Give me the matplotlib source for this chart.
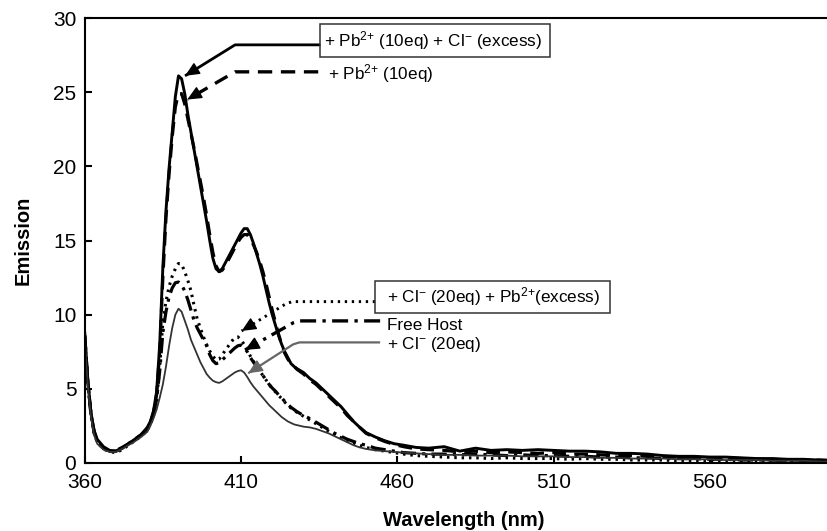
import matplotlib
matplotlib.use('Agg')
import matplotlib.pyplot as plt
from matplotlib.patches import Rectangle

plt.rcParams['font.family'] = ['Liberation Sans', 'DejaVu Sans']
plt.rcParams['mathtext.fontset'] = 'custom'
plt.rcParams['mathtext.rm'] = 'Liberation Sans'
plt.rcParams['mathtext.it'] = 'Liberation Sans:italic'
plt.rcParams['mathtext.bf'] = 'Liberation Sans:bold'

# ---------------- data ----------------
wavelength = [360, 361, 362, 363, 364, 366, 368, 370, 372, 374, 376, 378,
              380, 381, 382, 383, 384, 385, 386, 387, 388, 389, 390, 391, 392, 393, 394, 395, 396, 397, 398, 399,
              400, 401, 402, 403, 404, 405, 406, 407, 408, 409, 410, 411, 412, 413, 414, 415, 416, 417, 418, 419,
              420, 421, 422, 423, 424, 425, 426, 427, 428, 430, 432, 434, 436, 438, 440, 442, 444, 446, 448, 450,
              453, 456, 459, 462, 466, 470, 475, 480, 485, 490, 495, 500, 505, 510, 515, 520, 525, 530, 535, 540,
              545, 550, 555, 560, 565, 570, 575, 580, 585, 590, 595, 598]

pb_cl_excess = [8.8, 5.6, 3.4, 2.2, 1.6, 1.1, 0.85, 0.8, 1.0, 1.3, 1.6, 1.9,
                2.4, 2.8, 3.5, 4.8, 8.0, 13.2, 17.0, 19.9, 22.3, 24.7, 26.1, 25.9, 24.9, 23.5, 22.3, 21.1, 19.9, 18.7, 17.5, 16.3,
                15.0, 13.8, 13.1, 12.9, 13.1, 13.5, 13.9, 14.3, 14.7, 15.1, 15.5, 15.8, 15.8, 15.4, 14.8, 14.1, 13.4, 12.6, 11.7, 10.8,
                10.0, 9.3, 8.6, 8.0, 7.5, 7.1, 6.7, 6.5, 6.35, 6.1, 5.7, 5.4, 5.0, 4.6, 4.2, 3.8, 3.3, 2.8, 2.4, 2.05,
                1.75, 1.5, 1.3, 1.2, 1.05, 1.0, 1.1, 0.8, 1.0, 0.85, 0.9, 0.85, 0.9, 0.85, 0.8, 0.8, 0.75, 0.65, 0.65, 0.6,
                0.5, 0.45, 0.45, 0.4, 0.4, 0.35, 0.3, 0.3, 0.25, 0.25, 0.2, 0.2]

pb_10eq = [8.6, 5.5, 3.3, 2.1, 1.5, 1.0, 0.8, 0.85, 1.05, 1.3, 1.55, 1.85,
           2.3, 2.7, 3.4, 4.6, 7.5, 12.5, 16.5, 19.5, 22.0, 24.0, 24.9, 24.9, 24.2, 23.2, 22.2, 21.2, 20.1, 19.0, 17.9, 16.7,
           15.4, 14.2, 13.3, 12.9, 13.0, 13.3, 13.7, 14.1, 14.5, 14.9, 15.2, 15.4, 15.4, 15.1, 14.7, 14.2, 13.6, 12.9, 12.1, 11.2,
           10.3, 9.5, 8.7, 8.0, 7.4, 7.0, 6.7, 6.5, 6.3, 6.0, 5.6, 5.3, 4.9, 4.5, 4.1, 3.7, 3.2, 2.8, 2.4, 2.0,
           1.7, 1.45, 1.25, 1.1, 0.95, 0.9, 0.85, 0.75, 0.8, 0.7, 0.75, 0.7, 0.65, 0.7, 0.6, 0.6, 0.55, 0.5, 0.5, 0.45,
           0.4, 0.4, 0.35, 0.35, 0.3, 0.3, 0.25, 0.25, 0.2, 0.2, 0.2, 0.15]

cl_pb_excess = [8.5, 5.3, 3.2, 2.0, 1.4, 0.95, 0.75, 0.7, 0.9, 1.2, 1.5, 1.8,
                2.2, 2.6, 3.2, 4.2, 6.5, 9.5, 10.9, 11.9, 12.6, 13.1, 13.45, 13.4, 12.9, 12.3, 11.6, 10.6, 9.7, 9.1, 8.5, 8.0,
                7.55, 7.2, 6.95, 7.0, 7.3, 7.6, 7.9, 8.2, 8.45, 8.5, 8.3, 8.0, 7.6, 7.2, 6.85, 6.5, 6.2, 5.9, 5.6, 5.3,
                5.0, 4.8, 4.55, 4.35, 4.1, 3.9, 3.7, 3.55, 3.4, 3.15, 2.9, 2.65, 2.4, 2.15, 1.9, 1.7, 1.5, 1.35, 1.2, 1.05,
                0.9, 0.8, 0.7, 0.6, 0.5, 0.45, 0.4, 0.35, 0.35, 0.3, 0.35, 0.3, 0.3, 0.3, 0.25, 0.3, 0.25, 0.25, 0.2, 0.2,
                0.2, 0.15, 0.15, 0.15, 0.1, 0.1, 0.1, 0.1, 0.1, 0.1, 0.1, 0.1]

free_host = [8.6, 5.4, 3.3, 2.1, 1.5, 1.0, 0.8, 0.8, 1.0, 1.3, 1.6, 1.9,
             2.3, 2.7, 3.3, 4.3, 6.2, 8.8, 10.2, 11.2, 11.8, 12.15, 12.2, 12.0, 11.6, 11.0, 10.3, 9.6, 9.1, 8.7, 8.3, 7.9,
             7.3, 6.9, 6.7, 6.75, 6.95, 7.15, 7.35, 7.55, 7.75, 7.9, 7.95, 7.8, 7.5, 7.1, 6.8, 6.5, 6.2, 5.9, 5.6, 5.3,
             5.05, 4.85, 4.6, 4.4, 4.15, 3.95, 3.75, 3.6, 3.45, 3.2, 3.0, 2.75, 2.5, 2.25, 2.0, 1.8, 1.6, 1.45, 1.3, 1.2,
             1.0, 0.9, 0.8, 0.7, 0.65, 0.6, 0.6, 0.55, 0.6, 0.55, 0.5, 0.55, 0.5, 0.5, 0.45, 0.45, 0.4, 0.4, 0.35, 0.35,
             0.3, 0.3, 0.3, 0.25, 0.25, 0.2, 0.2, 0.2, 0.15, 0.15, 0.15, 0.1]

cl_20eq = [8.4, 5.2, 3.1, 1.9, 1.3, 0.9, 0.75, 0.75, 0.95, 1.2, 1.45, 1.75,
           2.1, 2.5, 3.0, 3.6, 4.4, 5.3, 6.5, 7.9, 9.1, 10.0, 10.4, 10.2, 9.6, 9.0, 8.3, 7.8, 7.3, 6.8, 6.4, 6.0,
           5.75, 5.55, 5.45, 5.4, 5.5, 5.65, 5.8, 5.95, 6.1, 6.2, 6.25, 6.1, 5.8, 5.45, 5.15, 4.9, 4.65, 4.4, 4.15, 3.9,
           3.7, 3.5, 3.3, 3.1, 2.95, 2.8, 2.7, 2.6, 2.55, 2.45, 2.4, 2.3, 2.15, 2.0, 1.8, 1.6, 1.4, 1.2, 1.05, 0.95,
           0.85, 0.8, 0.75, 0.7, 0.65, 0.6, 0.55, 0.55, 0.5, 0.5, 0.5, 0.45, 0.45, 0.45, 0.4, 0.4, 0.35, 0.35, 0.3, 0.3,
           0.3, 0.25, 0.25, 0.25, 0.2, 0.2, 0.2, 0.15, 0.15, 0.15, 0.1, 0.1]

labels = [r'+ Pb$^{2\text{+}}$ (10eq) + Cl$^{-}$ (excess)',
          r'+ Pb$^{2\text{+}}$ (10eq)',
          r'+ Cl$^{-}$ (20eq) + Pb$^{2\text{+}}$(excess)',
          'Free Host',
          r'+ Cl$^{-}$ (20eq)']

x_ticks = [360, 410, 460, 510, 560]
y_ticks = [0, 5, 10, 15, 20, 25, 30]

# ---------------- figure ----------------
W, H = 828, 531
fig = plt.figure(figsize=(W / 100, H / 100), dpi=100)
ax = fig.add_axes([84.7 / W, 68 / H, 744 / W, 445 / H])

series = [pb_cl_excess, pb_10eq, cl_pb_excess, free_host, cl_20eq]
styles = [
    dict(color='black', lw=2.1, ls='-'),
    dict(color='black', lw=2.3, ls=(0, (4.3, 2.6))),
    dict(color='black', lw=2.2, ls=(0, (0.8, 1.6))),
    dict(color='black', lw=2.3, ls=(0, (4.8, 1.9, 1.0, 1.9))),
    dict(color='#333333', lw=1.3, ls='-'),
]
for ys, st in zip(series, styles):
    ax.plot(wavelength, ys, **st)

# annotation arrows (start, bend, head) in data coords
arrow_paths = [
    [(435.4, 28.19), (408.1, 28.19), (392.1, 26.1)],
    [(434.7, 26.37), (408.1, 26.37), (392.8, 24.5)],
    [(452.9, 10.88), (426.5, 10.88), (424.5, 10.75), (410.2, 8.9)],
    [(454.5, 9.58), (428.7, 9.58), (426.7, 9.45), (411.3, 7.62)],
    [(454.5, 8.13), (428.7, 8.13), (426.7, 8.0), (412.3, 6.05)],
]
arrow_colors = ['black', 'black', 'black', 'black', '#666666']
arrow_lw = [2.0, 2.4, 2.1, 2.4, 1.6]
arrow_ls = ['-', (0, (4.3, 2.6)), (0, (0.8, 1.6)), (0, (4.8, 1.9, 1.0, 1.9)), '-']
for path, c, lw, ls in zip(arrow_paths, arrow_colors, arrow_lw, arrow_ls):
    xs = [p[0] for p in path]
    ys = [p[1] for p in path]
    ax.plot(xs, ys, color=c, lw=lw, ls=ls, solid_capstyle='butt')
    (bx, by), (hx, hy) = path[-2], path[-1]
    tx = hx + 0.05 * (bx - hx)
    ty = hy + 0.05 * (by - hy)
    ax.annotate('', xy=(hx, hy), xytext=(tx, ty),
                arrowprops=dict(arrowstyle='-|>,head_length=0.55,head_width=0.25',
                                color=c, lw=1.0, shrinkA=0, shrinkB=0,
                                mutation_scale=16))

# label boxes (data coords: x0, y0, width, height)
for (bx0, by0, bw, bh) in [(435.4, 27.38, 73.3, 2.22), (452.9, 10.11, 75.2, 2.16)]:
    ax.add_patch(Rectangle((bx0, by0), bw, bh, fill=False, ec='#333333', lw=1.1, zorder=3))

# label texts
ax.text(436.6, 28.5, labels[0], fontsize=12.3, ha='left', va='center')
ax.text(437.8, 26.26, labels[1], fontsize=12.3, ha='left', va='center')
ax.text(456.7, 11.2, labels[2], fontsize=12.3, ha='left', va='center')
ax.text(456.7, 9.3, labels[3], fontsize=12.3, ha='left', va='center')
ax.text(456.7, 8.0, labels[4], fontsize=12.3, ha='left', va='center')

ax.set_xlim(360, 598)
ax.set_ylim(0, 30)
ax.set_xticks(x_ticks)
ax.set_yticks(y_ticks)
ax.tick_params(direction='in', length=5, width=1.5, labelsize=15)
ax.tick_params(axis='x', pad=7)
ax.tick_params(axis='y', pad=6)
for s in ['left', 'bottom', 'top']:
    ax.spines[s].set_linewidth(1.5)
ax.spines['right'].set_visible(False)

ax.set_xlabel('Wavelength (nm)', fontsize=14.5, fontweight='bold')
ax.set_ylabel('Emission', fontsize=14.5, fontweight='bold')
ax.yaxis.set_label_coords(-0.07, 0.5)
ax.xaxis.set_label_coords(0.509, -0.107)

fig.savefig('out.png', dpi=100)
